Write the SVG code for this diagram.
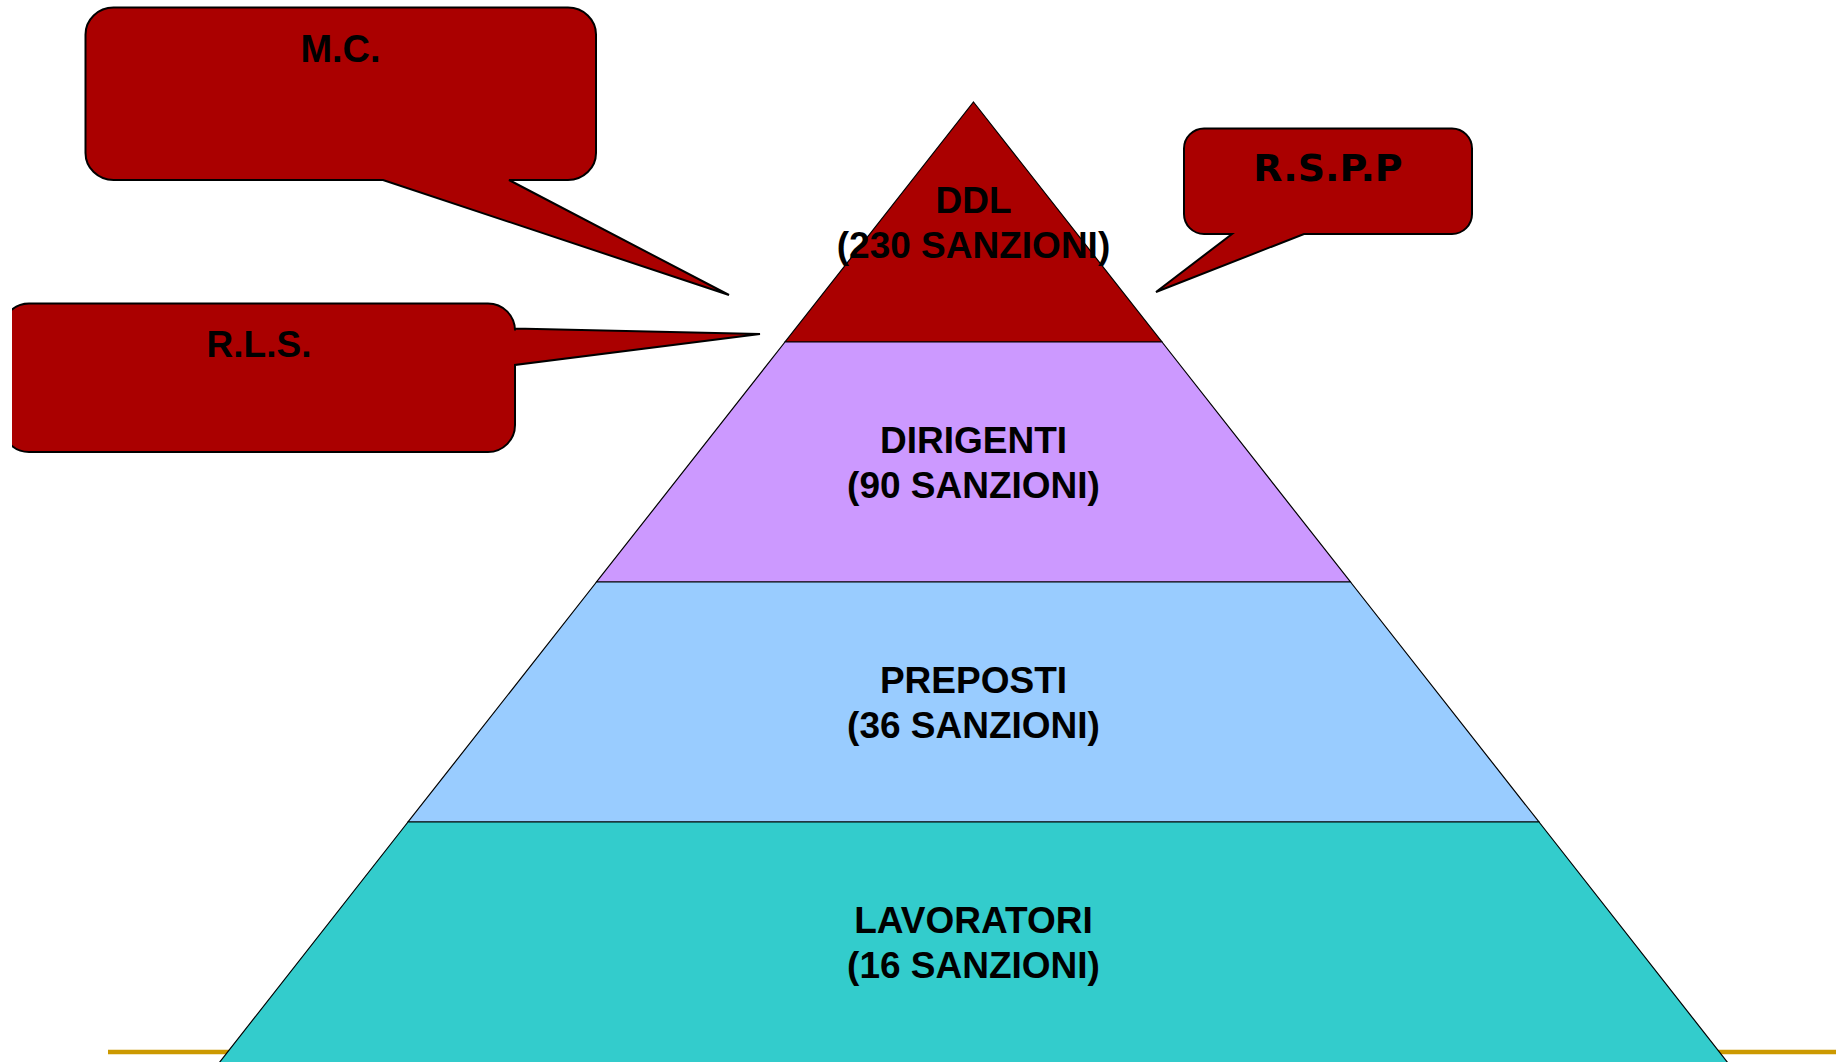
<svg xmlns="http://www.w3.org/2000/svg" width="1836" height="1062" viewBox="0 0 1836 1062">
<defs>
<style>
.layer{stroke:#000;stroke-width:1.2;stroke-linejoin:miter}
.call{fill:#AA0000;stroke:#000;stroke-width:2;stroke-linejoin:miter}
.lbl{font-family:"Liberation Sans",Arial,Helvetica,sans-serif;font-weight:bold;font-size:37px;fill:#000;text-anchor:middle}
.lbl2{font-family:"DejaVu Sans",Verdana,sans-serif;font-weight:bold;font-size:38px;fill:#000;text-anchor:middle}
</style>
<clipPath id="rlsclip"><rect x="12" y="0" width="1824" height="1062"/></clipPath>
</defs>
<rect x="0" y="0" width="1836" height="1062" fill="#fff"/>
<line x1="108" y1="1052" x2="1836" y2="1052" stroke="#CC9900" stroke-width="4.5"/>
<g id="pyramid">
<g id="ddl">
<polygon class="layer" fill="#AA0000" points="973.5,102 1162,342 785,342"/>
<text class="lbl" x="973.5" y="212.5">DDL</text>
<text class="lbl" x="973.5" y="257.5">(230 SANZIONI)</text>
</g>
<g id="dirigenti">
<polygon class="layer" fill="#CC99FF" points="785,342 1162,342 1350.5,582 596.5,582"/>
<text class="lbl" x="973.5" y="452.5">DIRIGENTI</text>
<text class="lbl" x="973.5" y="497.5">(90 SANZIONI)</text>
</g>
<g id="preposti">
<polygon class="layer" fill="#99CCFF" points="596.5,582 1350.5,582 1539,822 408,822"/>
<text class="lbl" x="973.5" y="692.5">PREPOSTI</text>
<text class="lbl" x="973.5" y="737.5">(36 SANZIONI)</text>
</g>
<g id="lavoratori">
<polygon class="layer" fill="#33CCCC" points="408,822 1539,822 1728,1063 219,1063"/>
<text class="lbl" x="973.5" y="932.5">LAVORATORI</text>
<text class="lbl" x="973.5" y="977.5">(16 SANZIONI)</text>
</g>
</g>
<g id="callouts">
<g id="mc">
<path class="call" d="M113.5,7.5 H568 A28,27 0 0 1 596,34.5 V153 A28,27 0 0 1 568,180 H509 L729,295 L383,180 H113.5 A28,27 0 0 1 85.5,153 V34.5 A28,27 0 0 1 113.5,7.5 Z"/>
<text class="lbl" x="340.5" y="62" style="font-size:38px">M.C.</text>
</g>
<g id="rls">
<path class="call" clip-path="url(#rlsclip)" d="M29,303.5 H488 A27,27 0 0 1 515,330.5 V328.5 L760,334 L515,365 V425 A27,27 0 0 1 488,452 H29 A27,27 0 0 1 2,425 V330.5 A27,27 0 0 1 29,303.5 Z"/>
<text class="lbl" x="259" y="356.5">R.L.S.</text>
</g>
<g id="rspp">
<path class="call" d="M1204,128.5 H1452 A20,20 0 0 1 1472,148.5 V214 A20,20 0 0 1 1452,234 H1304 L1156,292 L1232,234 H1204 A20,20 0 0 1 1184,214 V148.5 A20,20 0 0 1 1204,128.5 Z"/>
<text class="lbl2" x="1328" y="181">R.S.P.P</text>
</g>
</g>
</svg>
